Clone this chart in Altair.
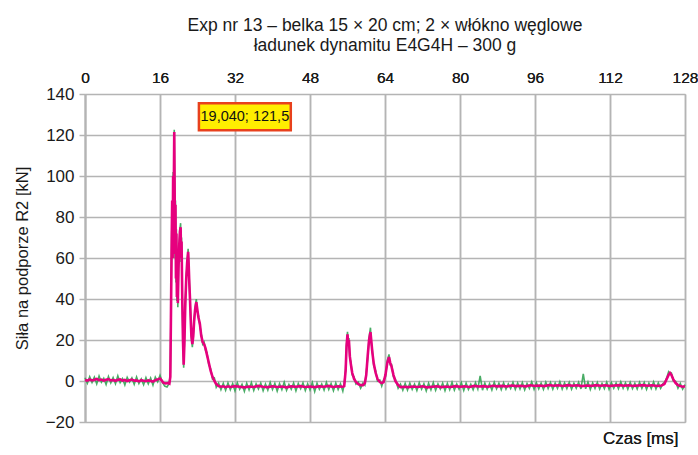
import altair as alt
import pandas as pd

# ---------------- data ----------------
# smoothed signal (magenta): time [ms], force [kN]
mag_t = [0, 0.5, 1, 1.5, 2, 2.5, 3, 3.5, 4, 4.5, 5, 5.5, 6, 6.5, 7, 7.5, 8, 8.5, 9, 9.5,
         10, 10.5, 11, 11.5, 12, 12.5, 13, 13.5, 14, 14.5, 15, 15.5, 16, 16.3, 16.7, 17.2, 17.7, 18.0,
         18.2, 18.35, 18.5, 18.6, 18.7, 18.8, 18.9, 19.04, 19.12, 19.2, 19.3, 19.4, 19.5, 19.6, 19.7,
         19.8, 19.95, 20.1, 20.25, 20.4, 20.5, 20.6, 20.75, 20.9, 21.05, 21.2, 21.4, 21.6, 21.8, 22.0,
         22.1, 22.25, 22.4, 22.55, 22.7, 22.9, 23.1, 23.3, 23.5, 23.75, 23.95, 24.2, 24.5, 24.8, 25.1,
         25.4, 25.7, 26.0, 26.4, 26.8, 27.2, 27.6, 28.0, 28.5, 29.0, 29.5, 30,
         30.5, 31, 32, 33, 34, 35, 36, 37, 38, 39, 40, 41, 42, 43, 44, 45, 46, 47, 48, 49, 50,
         51, 52, 53, 54, 55,
         55.3, 55.6, 55.8, 56.0, 56.15, 56.3, 56.5, 56.7, 57.0, 57.4, 57.8, 58.3, 58.8, 59.3, 59.7,
         60.0, 60.3, 60.6, 60.9, 61.1, 61.3, 61.6, 62.0, 62.4, 62.9, 63.3, 63.7, 64.1, 64.5, 64.85,
         65.1, 65.4, 65.8, 66.2, 66.8, 67.3, 68,
         69, 70, 71, 72, 73, 74, 75, 76, 77, 78, 79, 80, 81, 82, 83, 84, 85, 86, 87, 88, 89, 90,
         91, 92, 93, 94, 95, 96, 97, 98, 99, 100, 101, 102, 103, 104, 105, 106, 107, 108, 109, 110,
         111, 112, 113, 114, 115, 116, 117, 118, 119, 120, 121, 122, 123,
         123.6, 124.1, 124.5, 124.8, 125.1, 125.5, 126.0, 126.5, 127, 127.5, 128]
mag_v = [0.5, 0.2, 0.8, 0.3, 0.6, 1.0, 0.4, 0.7, 0.2, 0.6, 0.9, 0.3, 0.5, 0.1, 0.6, 0.8, 0.2, 0.5, 0.0, 0.4,
         0.7, 0.2, 0.3, -0.2, 0.4, 0.1, -0.1, 0.3, 0.0, -0.3, 0.4, 0.8, 1.2, 0.5, -0.8, -1.2, -1.0, -1.3,
         2, 35, 70, 88, 60, 100, 80, 121.5, 95, 62, 86, 50, 72, 41, 58,
         38, 55, 66, 73, 75, 60, 68, 40, 20, 8, 18, 38, 50, 58, 63,
         58, 48, 40, 30, 22, 18, 22, 30, 35, 38.5, 35, 31, 28, 22, 19,
         18, 16, 13, 9, 5, 2, 0, -1.5, -2.5, -2.8, -2.6, -3.0,
         -2.6, -2.9, -2.5, -2.8, -3.1, -2.7, -2.9, -2.4, -2.8, -3.0, -2.6, -2.9, -2.7, -3.1, -2.6, -2.8, -2.5, -2.9, -2.7, -3.0, -2.6,
         -2.8, -2.4, -2.9, -2.6, -2.8,
         -2.5, 5, 17, 22.8, 18, 20, 12, 8.5, 4, 1, -0.5, -1.5, -2.0, -2.0, -1.0,
         3, 12, 20, 23.9, 19, 14, 8.5, 4, 1, -0.5, -1, -0.5, 3, 9, 11.7,
         9, 7, 3, 0, -2.0, -3.0, -2.8,
         -3.0, -2.7, -2.9, -2.6, -3.1, -2.8, -2.6, -3.0, -2.7, -2.9, -2.5, -2.8, -2.6, -2.9, -2.4, -2.7, -2.5, -2.8, -2.3, -2.6, -2.4, -2.7,
         -2.2, -2.5, -2.3, -2.6, -2.1, -2.4, -2.2, -2.5, -2.0, -2.3, -2.1, -2.4, -2.0, -2.3, -2.1, -2.5, -2.2, -2.4, -2.0, -2.3,
         -2.1, -2.4, -2.2, -2.0, -2.3, -2.1, -2.4, -2.2, -2.0, -2.3, -2.1, -2.4, -2.2,
         -1.5, 1.0, 3.0, 3.9, 3.0, 0.8, -1.0, -2.0, -2.5, -2.8, -2.6]

# raw signal (green): time [ms], force [kN]
raw_t = [0, 0.5, 1, 1.5, 2, 2.5, 3, 3.5, 4, 4.5, 5, 5.5, 6, 6.5, 7, 7.5, 8, 8.5, 9, 9.5,
         10, 10.5, 11, 11.5, 12, 12.5, 13, 13.5, 14, 14.5, 15, 15.5, 16, 16.5, 17, 17.5, 18,
         18.2, 18.35, 18.5, 18.6, 18.7, 18.8, 18.9, 19.04, 19.12, 19.2, 19.3, 19.4, 19.5, 19.6, 19.7,
         19.8, 19.95, 20.1, 20.25, 20.4, 20.5, 20.6, 20.75, 20.9, 21.05, 21.2, 21.4, 21.6, 21.8, 22.0,
         22.1, 22.25, 22.4, 22.55, 22.7, 22.9, 23.1, 23.3, 23.5, 23.75, 23.95, 24.2, 24.5, 24.8, 25.1,
         25.4, 25.7, 26.0, 26.4, 26.8, 27.2, 27.6, 28.0, 28.5, 29.0, 29.5,
         30, 30.5, 31, 31.5, 32, 32.5, 33, 33.5, 34, 34.5, 35, 35.5, 36, 36.5, 37, 37.5, 38, 38.5,
         39, 39.5, 40, 40.5, 41, 41.5, 42, 42.5, 43, 43.5, 44, 44.5, 45, 45.5, 46, 46.5, 47, 47.5,
         48, 48.5, 49, 49.5, 50, 50.5, 51, 51.5, 52, 52.5, 53, 53.5, 54, 54.5, 55,
         55.3, 55.6, 55.8, 56.0, 56.15, 56.3, 56.5, 56.7, 57.0, 57.4, 57.8, 58.3, 58.8, 59.3, 59.7,
         60.0, 60.3, 60.6, 60.9, 61.1, 61.3, 61.6, 62.0, 62.4, 62.9, 63.3, 63.7, 64.1, 64.5, 64.85,
         65.1, 65.4, 65.8, 66.2, 66.8, 67.3, 67.8,
         68.3, 68.8, 69.3, 69.8, 70.3, 70.8, 71.3, 71.8, 72.3, 72.8, 73.3, 73.8, 74.3, 74.8, 75.3,
         75.8, 76.3, 76.8, 77.3, 77.8, 78.3, 78.8, 79.3, 79.8, 80.3, 80.8, 81.3, 81.8, 82.3, 82.8,
         83.3, 83.8, 84.3, 84.8, 85.3, 85.8, 86.3, 86.8, 87.3, 87.8, 88.3, 88.8, 89.3, 89.8, 90.3,
         90.8, 91.3, 91.8, 92.3, 92.8, 93.3, 93.8, 94.3, 94.8, 95.3, 95.8, 96.3, 96.8, 97.3, 97.8,
         98.3, 98.8, 99.3, 99.8, 100.3, 100.8, 101.3, 101.8, 102.3, 102.8, 103.3, 103.8, 104.3, 104.8,
         105.3, 105.8, 106.3, 106.8, 107.3, 107.8, 108.3, 108.8, 109.3, 109.8, 110.3, 110.8, 111.3,
         111.8, 112.3, 112.8, 113.3, 113.8, 114.3, 114.8, 115.3, 115.8, 116.3, 116.8, 117.3, 117.8,
         118.3, 118.8, 119.3, 119.8, 120.3, 120.8, 121.3, 121.8, 122.3, 122.8, 123.3,
         123.7, 124.1, 124.5, 124.8, 125.1, 125.5, 126.0, 126.5, 127.0, 127.5, 128]
raw_v = [1.6, -1.1, 2.1, -0.7, 1.9, -1.4, 2.4, -0.6, 1.3, -1.7, 2.2, -0.9, 1.7, -1.3, 2.5, -0.8, 1.2, -1.9, 1.8, -0.5,
         1.5, -1.6, 2.0, -1.2, 1.0, -1.8, 1.6, -1.4, 1.4, -2.0, 1.9, -0.4, 2.7, -0.6, -2.5, -2.9, -1.0,
         4, 36, 72, 86, 62, 102, 78, 122.5, 93, 60, 88, 48, 74, 39, 60,
         36, 57, 64, 74, 77, 58, 70, 38, 21, 6.5, 19, 37, 51, 57, 64.5,
         57, 49, 39, 31, 21, 16.5, 23, 29, 36, 40, 34, 32, 27, 23, 18,
         19, 15, 14, 8, 6, 1, 1.5, -3, -1, -4.2, -1.2,
         -4.5, -1.0, -4.2, -1.3, -4.8, -0.9, -4.0, -1.6, -5.0, -1.1, -4.3, -0.8, -4.6, -1.4, -3.9, -1.0, -4.7, -1.5,
         -4.4, -0.7, -4.1, -1.2, -4.9, -1.3, -4.2, -0.6, -4.5, -1.7, -4.0, -1.0, -4.8, -1.2, -3.8, -0.9, -4.6, -1.4,
         -4.3, -0.8, -5.1, -1.1, -4.0, -1.5, -4.4, -0.7, -4.1, -1.3, -4.7, -1.0, -4.2, -1.4, -4.9,
         -1.5, 6, 18, 24, 17, 21, 11, 9.5, 3, 2, -1.5, -0.5, -3.5, -1, -2,
         4, 11, 21, 26, 18, 15, 7.5, 5, 0, 0.5, -2.5, 0.5, 2, 10, 13,
         8, 8, 2, 1, -3.5, -1.5, -4.5,
         -1.2, -4.4, -1.0, -4.1, -1.5, -4.6, -0.9, -4.0, -1.3, -4.8, -1.1, -4.3, -0.8, -4.5, -1.4,
         -3.9, -1.0, -4.7, -1.2, -4.2, -0.7, -4.4, -1.5, -4.0, -0.9, -4.6, -1.1, -4.1, -1.6, -4.3,
         -0.8, -3.9, 2.5, -4.5, -1.0, -4.0, -1.3, -4.4, -0.6, -3.8, -1.1, -4.2, -0.9, -4.0, -1.4,
         -3.7, -0.7, -4.1, -1.0, -3.9, -0.8, -4.3, -1.2, -3.6, -0.5, -4.0, -0.9, -3.8, -1.1, -4.1,
         -0.6, -3.7, -0.8, -4.0, -1.0, -3.6, -0.4, -3.9, -0.9, -3.7, -0.7, -4.0, -1.1, -3.5,
         -0.6, -3.9, 3.5, -3.8, -0.5, -4.1, -0.9, -3.6, -0.7, -3.9, -1.2, -3.7, -0.6,
         -4.0, -0.8, -3.5, -1.0, -3.8, -0.4, -3.6, -0.9, -4.0, -0.7, -3.7, -1.1, -3.9,
         -0.6, -3.6, -0.8, -4.1, -1.0, -3.7, -0.5, -3.9, -0.9, -3.6, -1.2,
         -0.5, 1.5, 4.5, 3.5, 3.8, 0.2, -0.2, -3.5, -1.2, -4.0, -1.8]

x_ticks = [0, 16, 32, 48, 64, 80, 96, 112, 128]
y_ticks = [-20, 0, 20, 40, 60, 80, 100, 120, 140]

title_lines = ["Exp nr 13 – belka 15 × 20 cm; 2 × włókno węglowe",
               "ładunek dynamitu E4G4H – 300 g"]
y_title = "Siła na podporze R2 [kN]"
x_title = "Czas [ms]"

peak_label = "19,040; 121,5"
label_box = {"t0": [24.3], "t1": [43.9], "v0": [122.3], "v1": [135.5]}

# ---------------- chart ----------------
FONT = "Liberation Sans, Arial, sans-serif"
GRID = "#b4b4b4"
INK = "#1a1a1a"

mag = pd.DataFrame({"t": mag_t, "v": mag_v})
raw = pd.DataFrame({"t": raw_t, "v": raw_v})
box = pd.DataFrame(label_box)
box["label"] = peak_label
box["tm"] = (box["t0"] + box["t1"]) / 2
box["vm"] = (box["v0"] + box["v1"]) / 2

xscale = alt.Scale(domain=[0, 128], nice=False, zero=False)
yscale = alt.Scale(domain=[-20, 140], nice=False, zero=False)

top_axis = alt.Axis(orient="top", values=x_ticks, title=None, tickSize=0,
                    labelPadding=9, domain=False, grid=True, gridColor=GRID,
                    gridWidth=1.5, labelFontSize=15.5, labelFont=FONT,
                    labelColor=INK, labelFlush=False)
bottom_axis = alt.Axis(orient="bottom", title=x_title, labels=False, ticks=False,
                       domain=False, grid=False, titleAnchor="end", titleAlign="right",
                       titleX=593, titleFontSize=17, titleFont=FONT,
                       titleFontWeight="normal", titleColor=INK, titlePadding=8)
y_axis = alt.Axis(values=y_ticks, title=y_title, tickSize=6, tickColor=GRID,
                  tickWidth=1.5, labelPadding=5, domainColor=GRID, domainWidth=2,
                  grid=True, gridColor=GRID, gridWidth=1.5,
                  labelFontSize=17, labelFont=FONT, labelColor=INK,
                  titleFontSize=16.5, titleFont=FONT, titleFontWeight="normal",
                  titleColor=INK, titlePadding=15)

Y = alt.Y("v:Q", scale=yscale, axis=y_axis)

raw_line = alt.Chart(raw).mark_line(color="#34a354", strokeWidth=1.6, opacity=0.9).encode(
    x=alt.X("t:Q", scale=xscale, axis=top_axis), y=Y)
mag_line = alt.Chart(mag).mark_line(color="#e6007e", strokeWidth=2.6).encode(
    x=alt.X("t:Q", scale=xscale, axis=top_axis), y=Y)

rect = alt.Chart(box).mark_rect(fill="#ffee00", stroke="#e8401c", strokeWidth=2.5).encode(
    x=alt.X("t0:Q", scale=xscale, axis=bottom_axis), x2="t1:Q",
    y=alt.Y("v0:Q", scale=yscale, axis=y_axis), y2="v1:Q")
txt = alt.Chart(box).mark_text(fontSize=14.5, font=FONT, color="#111111").encode(
    x=alt.X("tm:Q", scale=xscale, axis=bottom_axis),
    y=alt.Y("vm:Q", scale=yscale, axis=y_axis), text="label:N")

chart = alt.layer(raw_line, mag_line, rect, txt).resolve_axis(x="independent").properties(
    width=600, height=328,
    title=alt.TitleParams(title_lines, fontSize=17.5, font=FONT, fontWeight="normal",
                          color=INK, anchor="middle", offset=16, lineHeight=19.5),
    autosize=alt.AutoSizeParams(type="none"),
    padding={"left": 85, "top": 94, "right": 13, "bottom": 33},
).configure_view(stroke=None).configure(background="white")

chart.save("out.html", embed_options={"renderer": "svg", "actions": False})
